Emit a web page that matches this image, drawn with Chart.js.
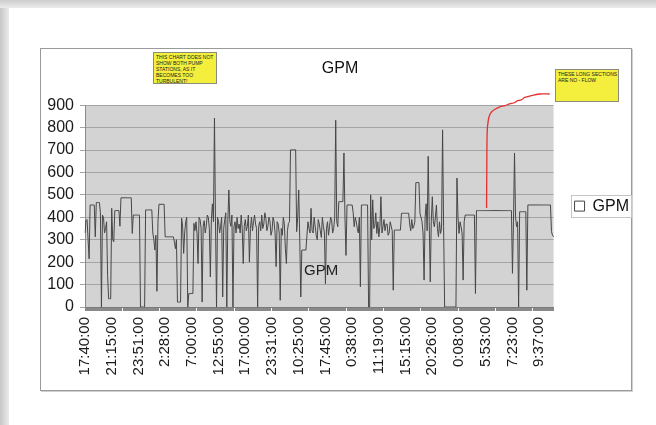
<!DOCTYPE html>
<html>
<head>
<meta charset="utf-8">
<script src="https://cdn.jsdelivr.net/npm/chart.js@4.4.0/dist/chart.umd.min.js"></script>
<style>
  html, body { margin:0; padding:0; background:#fff; width:656px; height:425px; overflow:hidden; font-family:"Liberation Sans", Arial, sans-serif; }
  #edgeLeft { position:absolute; left:0; top:0; width:9px; height:425px; background:linear-gradient(to right,#c6c6c6,#ebebeb); }
  #edgeTop { position:absolute; left:0; top:0; width:656px; height:8px; background:linear-gradient(#cdcdcd,#ebebeb); }
  #frame { position:absolute; left:40px; top:48px; width:590px; height:341px; border:1px solid #9a9a9a; box-shadow:1px 1px 0 #d0d0d0; }
  #wrap { position:absolute; left:41px; top:49px; width:598px; height:341px; }
  .note { position:absolute; background:#f4ee3c; border:1px solid #8c8c7c; font-size:5px; line-height:6px; color:#222; padding:1px 2px; box-sizing:border-box; text-transform:uppercase; white-space:nowrap; overflow:hidden; }
  #plotLabel { position:absolute; left:304px; top:261px; font-size:15px; color:#222; }
</style>
</head>
<body>
<div id="edgeLeft"></div>
<div id="edgeTop"></div>
<div id="frame"></div>
<div id="wrap"><canvas id="gpmChart" width="598" height="341"></canvas></div>
<div class="note" style="left:153px;top:52px;width:64px;height:32px;">This chart does not<br>show both pump<br>stations, as it<br>becomes too<br>turbulent!</div>
<div class="note" style="left:555px;top:69px;width:64px;height:33px;">These long sections<br>are no - flow</div>
<div id="plotLabel">GPM</div>

<script>
// labels shown under the axis, one every 26 readings
const tickLabels = ['17:40:00', '21:15:00', '23:51:00', '2:28:00', '7:00:00', '12:55:00',
  '17:00:00', '23:31:00', '10:25:00', '17:45:00', '0:38:00', '11:19:00',
  '15:15:00', '20:26:00', '0:08:00', '5:53:00', '7:23:00', '9:37:00'];
const tickEvery = 26;

// flow readings (GPM)
const gpm = [
  330, 385, 390, 300, 215, 455, 455, 455, 455, 455, 313, 466, 466, 466, 466, 420, 0, 410, 400, 330,
  350, 380, 140, 37, 37, 37, 440, 300, 291, 430, 430, 430, 430, 430, 360, 487, 487, 487, 487, 487,
  487, 487, 487, 487, 487, 487, 328, 410, 410, 410, 410, 410, 410, 410, 0, 0, 0, 0, 0, 433,
  433, 433, 433, 433, 433, 433, 330, 300, 254, 320, 70, 380, 458, 458, 458, 458, 458, 458, 313, 313,
  313, 313, 313, 313, 313, 313, 313, 290, 260, 300, 22, 22, 22, 22, 396, 360, 239, 330, 380, 400,
  0, 60, 60, 60, 60, 60, 373, 340, 380, 330, 194, 400, 390, 350, 22, 360, 385, 330, 360, 410,
  400, 350, 134, 390, 460, 380, 843, 380, 0, 400, 380, 330, 360, 400, 45, 350, 390, 420, 0, 380,
  522, 380, 360, 410, 0, 360, 380, 330, 400, 350, 370, 330, 410, 350, 194, 360, 390, 340, 360, 410,
  200, 350, 400, 340, 380, 410, 370, 350, 0, 360, 380, 340, 410, 350, 370, 420, 395, 340, 360, 400,
  385, 320, 340, 400, 380, 330, 180, 380, 370, 330, 30, 350, 320, 400, 370, 260, 194, 340, 373, 380,
  701, 701, 701, 701, 701, 701, 336, 400, 522, 300, 45, 254, 254, 254, 254, 254, 320, 380, 350, 330,
  440, 340, 330, 400, 360, 320, 300, 390, 370, 340, 310, 400, 360, 330, 104, 350, 380, 320, 360, 400,
  390, 330, 350, 400, 833, 380, 358, 470, 470, 470, 470, 470, 687, 400, 230, 455, 455, 455, 455, 455,
  455, 420, 358, 400, 380, 350, 330, 400, 90, 455, 455, 455, 455, 455, 455, 455, 0, 0, 500, 300,
  478, 350, 360, 420, 328, 380, 313, 360, 492, 330, 358, 390, 340, 370, 370, 320, 330, 380, 360, 340,
  75, 343, 343, 343, 343, 343, 343, 343, 418, 418, 418, 418, 418, 418, 418, 418, 370, 340, 390, 350,
  360, 380, 555, 555, 555, 555, 418, 400, 380, 330, 120, 400, 460, 340, 672, 380, 112, 380, 492, 380,
  358, 400, 455, 350, 313, 380, 328, 350, 790, 360, 0, 0, 0, 0, 0, 0, 0, 0, 0, 0,
  0, 0, 575, 400, 328, 380, 358, 330, 120, 380, 410, 410, 410, 410, 410, 410, 410, 410, 410, 410,
  60, 430, 430, 430, 430, 430, 430, 430, 430, 430, 430, 430, 430, 430, 430, 430, 430, 430, 430, 430,
  430, 430, 430, 430, 430, 430, 430, 430, 430, 430, 430, 430, 430, 430, 430, 430, 150, 380, 687, 400,
  358, 380, 0, 425, 425, 425, 425, 425, 425, 425, 75, 455, 455, 455, 455, 455, 455, 455, 455, 455,
  455, 455, 455, 455, 455, 455, 455, 455, 455, 455, 455, 455, 455, 455, 336, 320, 313
];

// hand drawn red marker (reading position, value)
const redX = [390.8, 391.0, 391.4, 392.4, 393.8, 395.8, 399.0, 403.6, 408.8, 413.2, 418.0, 420.8, 424.8, 427.8, 432.6, 437.6, 442.4, 452.2];
const redY = [442, 600, 780, 830, 856, 871, 882, 893, 898, 906, 911, 920, 924, 935, 940, 946, 950, 950];

const categories = gpm.map((v, i) => (i % tickEvery === 0 ? tickLabels[i / tickEvery] : ''));

const plotBg = {
  id: 'plotBg',
  beforeDraw(chart) {
    const { ctx, chartArea: a } = chart;
    ctx.save();
    ctx.fillStyle = '#d3d3d3';
    ctx.fillRect(a.left, a.top, a.right - a.left, a.bottom - a.top);
    ctx.restore();
  },
  afterDraw(chart) {
    // box round the legend, like the excel one
    const hb = chart.legend.legendHitBoxes && chart.legend.legendHitBoxes[0];
    if (!hb) return;
    const ctx = chart.ctx;
    ctx.save();
    ctx.strokeStyle = '#c4c4c4';
    ctx.lineWidth = 1;
    ctx.strokeRect(Math.round(hb.left - 4) + 0.5, Math.round(hb.top - 3) + 0.5, Math.round(hb.width + 6), Math.round(hb.height + 6));
    ctx.restore();
  }
};

new Chart(document.getElementById('gpmChart'), {
  type: 'line',
  data: {
    labels: categories,
    datasets: [
      {
        label: 'GPM',
        data: gpm,
        borderColor: '#474747',
        backgroundColor: '#ffffff',
        borderWidth: 1,
        pointRadius: 0,
        tension: 0,
        order: 1
      },
      {
        label: 'marker',
        data: redX.map((x, i) => ({ x: x, y: redY[i] })),
        xAxisID: 'xr',
        borderColor: '#e53030',
        borderWidth: 1.3,
        pointRadius: 0,
        tension: 0.3,
        clip: false,
        order: 0
      }
    ]
  },
  options: {
    responsive: false,
    devicePixelRatio: 1,
    animation: false,
    layout: { padding: 0 },
    plugins: {
      title: {
        display: true,
        text: 'GPM',
        color: '#111',
        font: { family: 'Liberation Sans', size: 16, weight: 'normal' },
        padding: { top: 10, bottom: 27 }
      },
      legend: {
        position: 'right',
        fullSize: false,
        labels: {
          filter: (item) => item.datasetIndex === 0,
          boxWidth: 10,
          boxHeight: 10,
          padding: 21,
          color: '#111',
          font: { family: 'Liberation Sans', size: 16 }
        }
      },
      tooltip: { enabled: false }
    },
    scales: {
      x: {
        type: 'category',
        afterFit: (s) => { s.height = 83; },
        grid: { drawOnChartArea: false, tickLength: 4, color: '#8a8a8a' },
        border: { color: '#7a7a7a' },
        ticks: {
          autoSkip: false,
          minRotation: 90,
          maxRotation: 90,
          padding: 6,
          color: '#1a1a1a',
          font: { family: 'Liberation Sans', size: 15 }
        }
      },
      xr: {
        type: 'linear',
        display: false,
        min: 0,
        max: gpm.length - 1
      },
      y: {
        min: 0,
        max: 900,
        afterFit: (s) => { s.width = 44; },
        grid: { color: '#a4a4a4', tickLength: 5 },
        border: { color: '#8a8a8a' },
        ticks: {
          stepSize: 100,
          padding: 6,
          color: '#1a1a1a',
          font: { family: 'Liberation Sans', size: 16 }
        }
      }
    }
  },
  plugins: [plotBg]
});
</script>
</body>
</html>
